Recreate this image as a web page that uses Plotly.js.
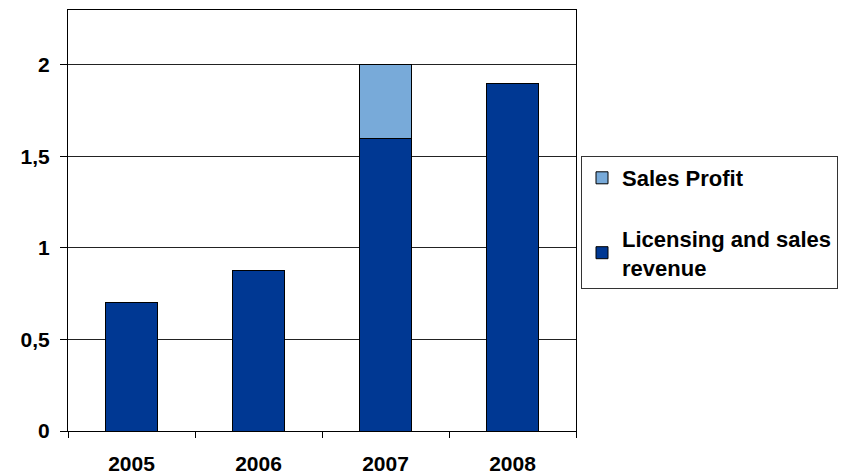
<!DOCTYPE html>
<html><head><meta charset="utf-8">
<script src="https://cdn.plot.ly/plotly-3.0.1.min.js"></script>
<style>html,body{margin:0;padding:0;background:#fff}#chart{width:843px;height:475px}</style>
</head><body><div id="chart"></div>
<script>
const years = ['2005', '2006', '2007', '2008'];
const licensingRevenue = [0.70, 0.875, 1.60, 1.90];
const salesProfit = [0, 0, 0.40, 0];
const seriesNames = ['Licensing and sales<br>revenue', 'Sales Profit'];
const yTicks = [0, 0.5, 1, 1.5, 2];

const fam = 'Liberation Sans, Arial, sans-serif';
const bold = {family: fam, size: 21, color: '#000', weight: 'bold'};
const data = [
  {type: 'bar', x: years, y: licensingRevenue, name: seriesNames[0], legendgroup: 'a', legendrank: 2,
   marker: {color: '#003893', line: {color: '#000', width: 1}}, width: 0.41},
  {type: 'bar', x: years, y: salesProfit, name: seriesNames[1], legendgroup: 'b', legendrank: 1,
   marker: {color: '#78aad9', line: {color: '#000', width: 1}}, width: 0.41}
];
const layout = {
  width: 843, height: 475,
  margin: {l: 67.5, r: 267, t: 10, b: 44, autoexpand: false},
  barmode: 'stack',
  separators: ', ',
  paper_bgcolor: '#fff', plot_bgcolor: '#fff',
  font: {family: fam, size: 21, color: '#000'},
  showlegend: true,
  legend: {xref: 'container', yref: 'container', x: 581 / 843, xanchor: 'left', y: 1 - 156 / 475, yanchor: 'top',
    traceorder: 'grouped', tracegroupgap: 29,
    bordercolor: '#333', borderwidth: 1, font: {family: fam, size: 22, color: '#000', weight: 'bold'}},
  xaxis: {type: 'category', tickson: 'boundaries', ticks: 'outside', ticklen: 6, tickcolor: '#000',
    showline: true, linecolor: '#000', linewidth: 1, mirror: true, showgrid: false,
    ticklabelstandoff: 14, tickfont: bold},
  yaxis: {range: [0, 2.3], tickvals: yTicks, ticks: 'outside', ticklen: 7, tickcolor: '#000',
    showline: true, linecolor: '#000', linewidth: 1, mirror: true,
    showgrid: true, gridcolor: '#222', gridwidth: 1, zeroline: false,
    ticklabelstandoff: 6, tickfont: bold},
  bargap: 0
};
Plotly.newPlot('chart', data, layout, {displayModeBar: false, staticPlot: true});
</script></body></html>
